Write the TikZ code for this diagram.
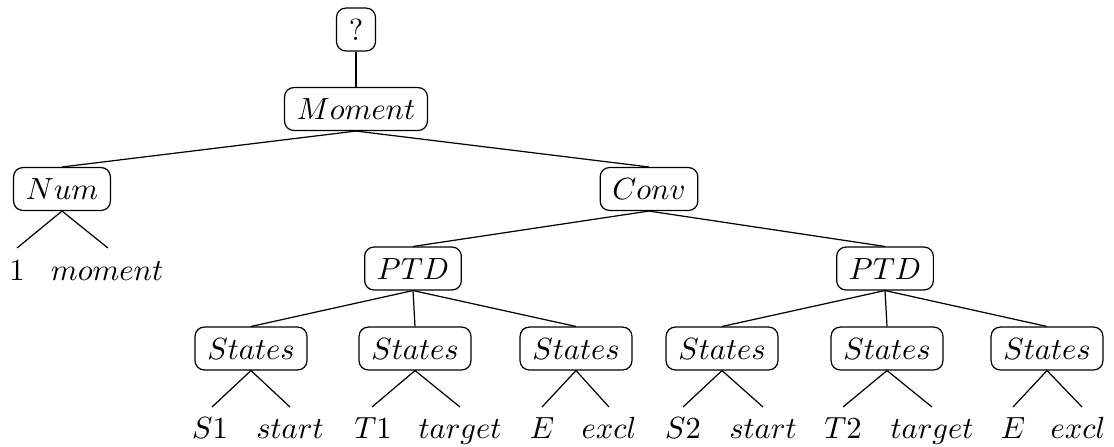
\documentclass[tikz,border=0pt]{standalone}
\begin{document}
\begin{tikzpicture}[x=0.3268pt,y=-0.3268pt,
  tn/.style={draw,rounded corners=3pt,inner xsep=4pt,inner ysep=3.5pt,
             text height=7pt,text depth=0pt},
  leaf/.style={anchor=base,inner sep=0pt},
  edge/.style={line width=0.4pt}]
\useasboundingbox (0,0) rectangle (1114,446);

% internal nodes
\node[tn] (root) at (356,29.5) {$?$};
\node[tn] (moment) at (356,109) {$Moment$};
\node[tn] (num) at (62,189) {$Num$};
\node[tn] (conv) at (649,189) {$Conv$};
\node[tn] (ptdL) at (413,268.5) {$PTD$};
\node[tn] (ptdR) at (885,268.5) {$PTD$};
\node[tn] (st1) at (251,348.5) {$States$};
\node[tn] (st2) at (415,348.5) {$States$};
\node[tn] (st3) at (576,348.5) {$States$};
\node[tn] (st4) at (722,348.5) {$States$};
\node[tn] (st5) at (887,348.5) {$States$};
\node[tn] (st6) at (1047,348.5) {$States$};

% leaves
\node[leaf] (l0a) at (17,280) {$1$};
\node[leaf] (l0b) at (107,280) {$moment$};
\node[leaf] (l1a) at (210,438) {$S1$};
\node[leaf] (l1b) at (290,438) {$start$};
\node[leaf] (l2a) at (373,438) {$T1$};
\node[leaf] (l2b) at (460,438) {$target$};
\node[leaf] (l3a) at (542,438) {$E$};
\node[leaf] (l3b) at (609,438) {$excl$};
\node[leaf] (l4a) at (683,438) {$S2$};
\node[leaf] (l4b) at (763,438) {$start$};
\node[leaf] (l5a) at (843,438) {$T2$};
\node[leaf] (l5b) at (932,438) {$target$};
\node[leaf] (l6a) at (1013,438) {$E$};
\node[leaf] (l6b) at (1078,438) {$excl$};

% free ends of the leaf edges
\coordinate (e0a) at (17,248);  \coordinate (e0b) at (108,248);
\coordinate (e1a) at (212,407); \coordinate (e1b) at (290,407);
\coordinate (e2a) at (372,407); \coordinate (e2b) at (460,407);
\coordinate (e3a) at (542,407); \coordinate (e3b) at (609,407);
\coordinate (e4a) at (683,407); \coordinate (e4b) at (763,407);
\coordinate (e5a) at (843,407); \coordinate (e5b) at (932,407);
\coordinate (e6a) at (1013,407); \coordinate (e6b) at (1082,407);

% tree edges
\draw[edge] (root.south) -- (moment.north);
\draw[edge] (moment.south) -- (num.north);
\draw[edge] (moment.south) -- (conv.north);
\draw[edge] (conv.south) -- (ptdL.north);
\draw[edge] (conv.south) -- (ptdR.north);
\foreach \p/\c in {ptdL/st1,ptdL/st2,ptdL/st3,ptdR/st4,ptdR/st5,ptdR/st6}
  \draw[edge] (\p.south) -- (\c.north);
\draw[edge] (e0a) -- (num.south) -- (e0b);
\foreach \i in {1,...,6}
  \draw[edge] (e\i a) -- (st\i.south) -- (e\i b);
\end{tikzpicture}
\end{document}
